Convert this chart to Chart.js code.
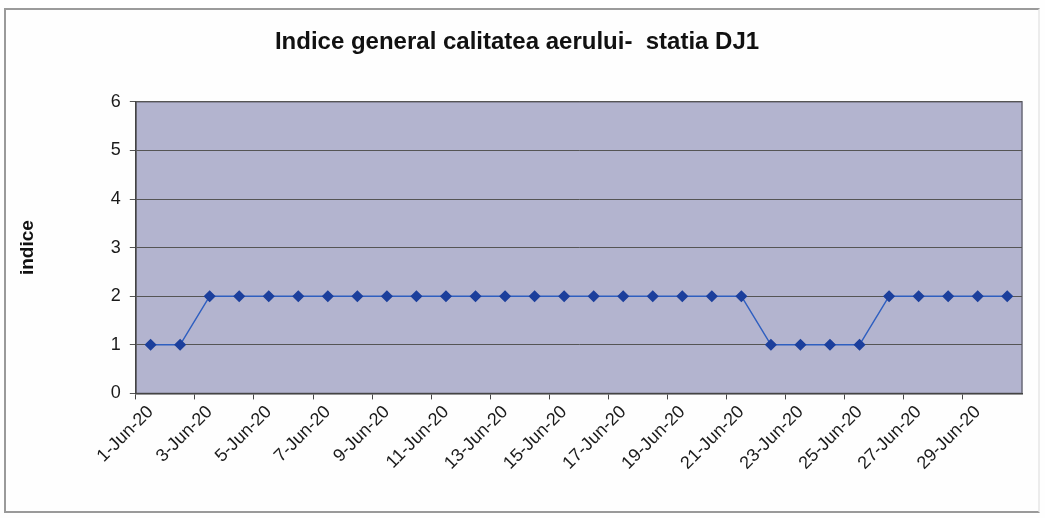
<!DOCTYPE html>
<html>
<head>
<meta charset="utf-8">
<title>Indice general calitatea aerului - statia DJ1</title>
<script src="https://cdn.jsdelivr.net/npm/chart.js@4.4.0/dist/chart.umd.min.js"></script>
<style>
  html, body { margin: 0; padding: 0; background: #fefefe; }
  #wrap { position: relative; width: 1045px; height: 518px; }
  #frame {
    position: absolute; left: 4px; top: 8px; width: 1036px; height: 505px;
    border: 2px solid #9a9a9a; border-right-color: #ececec; box-sizing: border-box;
  }
  canvas { position: absolute; left: 0; top: 0; }
</style>
</head>
<body>
<div id="wrap">
  <div id="frame"></div>
  <canvas id="chart" width="1045" height="518"></canvas>
</div>
<script>
// Daily values, June 2020
const days = [
  "1-Jun-20", "2-Jun-20", "3-Jun-20", "4-Jun-20", "5-Jun-20", "6-Jun-20",
  "7-Jun-20", "8-Jun-20", "9-Jun-20", "10-Jun-20", "11-Jun-20", "12-Jun-20",
  "13-Jun-20", "14-Jun-20", "15-Jun-20", "16-Jun-20", "17-Jun-20", "18-Jun-20",
  "19-Jun-20", "20-Jun-20", "21-Jun-20", "22-Jun-20", "23-Jun-20", "24-Jun-20",
  "25-Jun-20", "26-Jun-20", "27-Jun-20", "28-Jun-20", "29-Jun-20", "30-Jun-20"
];
const indice = [
  1, 1, 2, 2, 2, 2, 2, 2, 2, 2, 2, 2, 2, 2, 2, 2, 2, 2, 2, 2, 2,
  1, 1, 1, 1,
  2, 2, 2, 2, 2
];
const yTicks = [0, 1, 2, 3, 4, 5, 6];

// grey-lavender plot background like the old Excel chart
const plotBg = {
  id: "plotBg",
  beforeDraw(chart) {
    const { ctx, chartArea: a } = chart;
    ctx.save();
    ctx.fillStyle = "#b3b4cf";
    ctx.fillRect(a.left, a.top, a.right - a.left, a.bottom - a.top);
    ctx.strokeStyle = "#6a6a78";
    ctx.lineWidth = 1.5;
    ctx.strokeRect(a.left, a.top, a.right - a.left, a.bottom - a.top);
    ctx.restore();
  },
};

Chart.defaults.font.family = '"Liberation Sans", Arial, sans-serif';
Chart.defaults.color = "#1a1a1a";

new Chart(document.getElementById("chart").getContext("2d"), {
  type: "line",
  data: {
    labels: days,
    datasets: [
      {
        label: "indice",
        data: indice,
        borderColor: "#2f5fc0",
        borderWidth: 1.5,
        pointStyle: "rectRot",
        pointRadius: 5,
        pointBackgroundColor: "#1c3f9c",
        pointBorderColor: "#1c3f9c",
        tension: 0,
      },
    ],
  },
  options: {
    responsive: false,
    animation: false,
    layout: { padding: { left: 12, right: 23, top: 6, bottom: 42 } },
    plugins: {
      legend: { display: false },
      tooltip: { enabled: false },
      title: {
        display: true,
        text: "Indice general calitatea aerului-  statia DJ1",
        font: { size: 24, weight: "bold" },
        color: "#111",
        padding: { top: 22, bottom: 45 },
      },
    },
    scales: {
      x: {
        offset: true,
        grid: {
          offset: true,
          drawOnChartArea: false,
          tickLength: 6,
          color: (c) => (c.index % 2 === 0 ? "#444" : "rgba(0,0,0,0)"),
        },
        border: { color: "#444", width: 1.5 },
        ticks: {
          autoSkip: false,
          maxRotation: 45,
          minRotation: 45,
          font: { size: 18 },
          color: "#1a1a1a",
          padding: 2,
          callback: (v, i) => (i % 2 === 0 ? days[i] : ""),
        },
      },
      y: {
        min: 0,
        max: 6,
        afterBuildTicks: (s) => { s.ticks = yTicks.map((v) => ({ value: v })); },
        grid: { color: "#555", lineWidth: 1, tickLength: 6 },
        border: { color: "#444", width: 1.5 },
        ticks: { font: { size: 18 }, color: "#1a1a1a", padding: 9 },
        title: {
          display: true,
          text: "indice",
          font: { size: 19, weight: "bold" },
          color: "#111",
          padding: { bottom: 63 },
        },
      },
    },
  },
  plugins: [plotBg],
});
</script>
</body>
</html>
